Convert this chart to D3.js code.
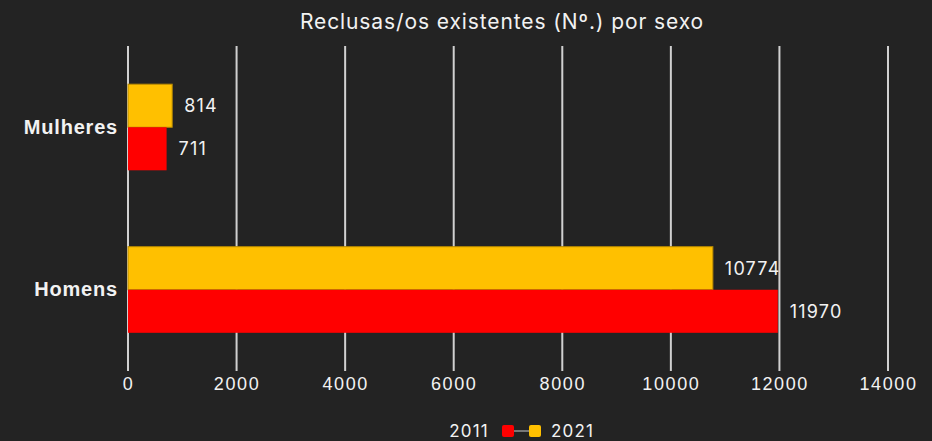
<!DOCTYPE html>
<html>
<head>
<meta charset="utf-8">
<script src="https://cdn.jsdelivr.net/npm/d3@7"></script>
<style>
  html, body { margin: 0; padding: 0; background: #232323; }
  svg { display: block; font-family: Inter, "Noto Sans", sans-serif; }
</style>
</head>
<body>
<svg id="chart" width="932" height="441"></svg>
<script>
// Prison population by sex, 2011 vs 2021
const categories = ["Mulheres", "Homens"];
const years = ["2021", "2011"];
const values2011 = [711, 11970];
const values2021 = [814, 10774];
const xTicks = [0, 2000, 4000, 6000, 8000, 10000, 12000, 14000];
const title = "Reclusas/os existentes (N\u00BA.) por sexo";

const colors = { "2011": "#ff0000", "2021": "#ffc000" };
const textColor = "#f2f2f2";

const svg = d3.select("#chart");
const W = 932, H = 441;
const margin = { left: 128, right: 44, top: 46, bottom: 70 };
const plotBottom = 371;

svg.append("rect").attr("width", W).attr("height", H).attr("fill", "#232323");

const x = d3.scaleLinear().domain([0, 14000]).range([margin.left, W - margin.right]);
const y = d3.scaleBand().domain(categories).range([margin.top, plotBottom]).paddingInner(0.47).paddingOuter(0.235);
const ySub = d3.scaleBand().domain(years).range([0, y.bandwidth()]);

// title
svg.append("text").attr("x", 502).attr("y", 29).attr("text-anchor", "middle")
  .attr("fill", textColor).attr("font-size", 21).attr("letter-spacing", 0.9).text(title);

// gridlines
svg.append("g").selectAll("line").data(xTicks).join("line")
  .attr("x1", d => x(d)).attr("x2", d => x(d))
  .attr("y1", margin.top).attr("y2", plotBottom)
  .attr("stroke", "#d0d0d0").attr("stroke-width", 2);

// x axis labels
const xAxis = d3.axisBottom(x).tickValues(xTicks).tickFormat(d3.format("d")).tickSize(0).tickPadding(0);
const gx = svg.append("g").attr("transform", `translate(0,${plotBottom})`).call(xAxis);
gx.select(".domain").remove();
gx.selectAll("text").attr("fill", textColor).attr("font-size", 18).attr("letter-spacing", 1.6)
  .attr("dy", "0").attr("y", 19);

// category labels
const yAxis = d3.axisLeft(y).tickSize(0).tickPadding(10);
const gy = svg.append("g").attr("transform", `translate(${margin.left},0)`).call(yAxis);
gy.select(".domain").remove();
gy.selectAll("text").attr("fill", textColor).attr("font-size", 20).attr("font-weight", 600)
  .attr("letter-spacing", 0.8);

// bars
const rows = [];
categories.forEach((c, i) => {
  rows.push({ cat: c, year: "2021", value: values2021[i] });
  rows.push({ cat: c, year: "2011", value: values2011[i] });
});

const bars = svg.append("g");
bars.selectAll("rect").data(rows).join("rect")
  .attr("x", x(0))
  .attr("y", d => y(d.cat) + ySub(d.year))
  .attr("width", d => x(d.value) - x(0))
  .attr("height", ySub.bandwidth())
  .attr("fill", d => colors[d.year])
  .attr("stroke", d => d.year === "2021" ? "#b88a00" : "none")
  .attr("stroke-width", 1);

bars.selectAll("text").data(rows).join("text")
  .attr("x", d => x(d.value) + 12)
  .attr("y", d => y(d.cat) + ySub(d.year) + ySub.bandwidth() / 2)
  .attr("dy", "0.35em")
  .attr("fill", textColor).attr("font-size", 18).attr("letter-spacing", 1.2)
  .text(d => d.value);

// legend
const lg = svg.append("g").attr("transform", "translate(0,431)");
lg.append("text").attr("x", 489).attr("y", 0).attr("dy", "0.35em").attr("text-anchor", "end")
  .attr("fill", textColor).attr("font-size", 17).attr("letter-spacing", 1.2).text("2011");
lg.append("line").attr("x1", 512).attr("x2", 531).attr("y1", 0).attr("y2", 0)
  .attr("stroke", "#777").attr("stroke-width", 2);
lg.append("rect").attr("x", 502).attr("y", -6).attr("width", 12).attr("height", 12).attr("rx", 2).attr("fill", colors["2011"]);
lg.append("rect").attr("x", 529).attr("y", -6).attr("width", 12).attr("height", 12).attr("rx", 2).attr("fill", colors["2021"]);
lg.append("text").attr("x", 551).attr("y", 0).attr("dy", "0.35em")
  .attr("fill", textColor).attr("font-size", 17).attr("letter-spacing", 1.2).text("2021");
</script>
</body>
</html>
